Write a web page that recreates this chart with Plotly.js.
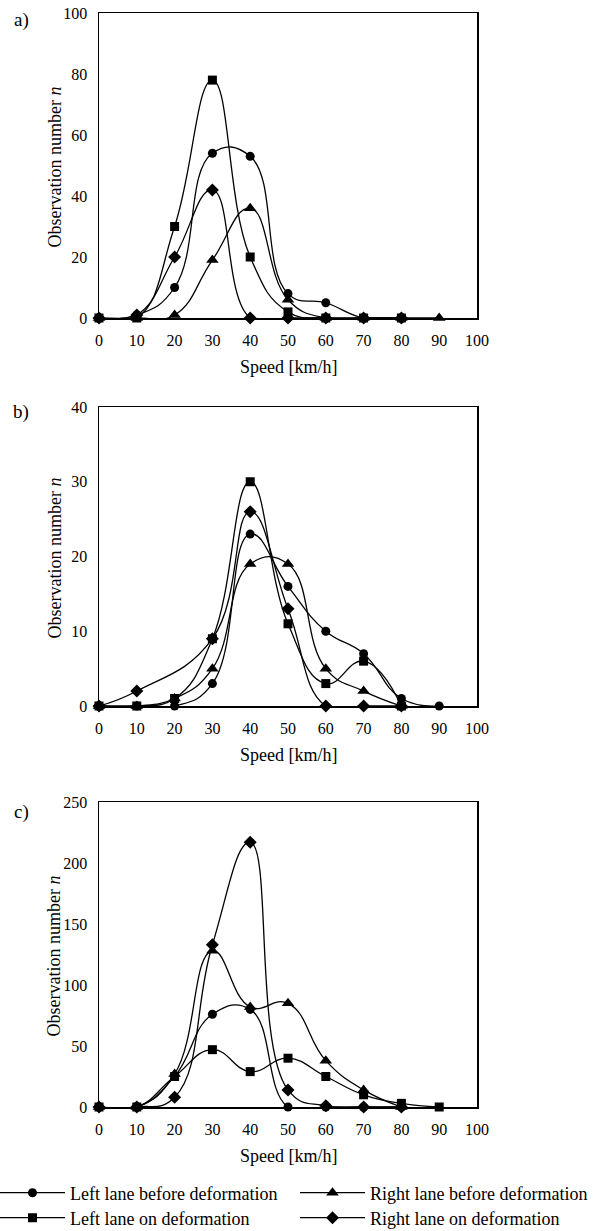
<!DOCTYPE html>
<html>
<head>
<meta charset="utf-8">
<script src="https://cdn.plot.ly/plotly-3.0.1.min.js"></script>
<style>html,body{margin:0;padding:0;background:#fff;}#chart{width:594px;height:1231px;}</style>
</head>
<body>
<div id="chart"></div>
<script>
// Speed categories [km/h]
var speeds = [0, 10, 20, 30, 40, 50, 60, 70, 80, 90];

// Panel a)
var leftBefore_a  = [0, 1, 10, 54, 53, 8, 5, 0, 0, null];
var rightBefore_a = [0, 0, 1, 19, 36, 6, 0, 0, 0, 0];
var leftOn_a      = [0, 0, 30, 78, 20, 2, 0, 0, 0, null];
var rightOn_a     = [0, 1, 20, 42, 0, 0, 0, 0, 0, null];

// Panel b)
var leftBefore_b  = [0, 0, 0, 3, 23, 16, 10, 7, 1, 0];
var rightBefore_b = [0, 0, 1, 5, 19, 19, 5, 2, 0, null];
var leftOn_b      = [0, 0, 1, 9, 30, 11, 3, 6, 0, null];
var rightOn_b     = [0, 2, null, 9, 26, 13, 0, 0, 0, null];

// Panel c)
var leftBefore_c  = [0, 0, 25, 76, 80, 0, 0, 0, 0, null];
var rightBefore_c = [0, 0, 27, 128, 82, 85, 38, 14, 0, null];
var leftOn_c      = [0, 0, 25, 47, 29, 40, 25, 10, 3, 0];
var rightOn_c     = [0, 0, 8, 133, 217, 14, 1, 0, 0, null];

var seriesNames = ["Left lane before deformation", "Right lane before deformation",
                   "Left lane on deformation", "Right lane on deformation"];
var symbols = ["circle", "triangle-up", "square", "diamond"];
var sizes = [9, 11, 9, 10];

var panels = [
  {data: [leftBefore_a, rightBefore_a, leftOn_a, rightOn_a], xa: "x", ya: "y"},
  {data: [leftBefore_b, rightBefore_b, leftOn_b, rightOn_b], xa: "x2", ya: "y2"},
  {data: [leftBefore_c, rightBefore_c, leftOn_c, rightOn_c], xa: "x3", ya: "y3"}
];
var legendIds = ["legend", "legend2", "legend3", "legend4"];

var traces = [];
panels.forEach(function (p, pi) {
  p.data.forEach(function (vals, si) {
    traces.push({
      x: speeds, y: vals, xaxis: p.xa, yaxis: p.ya,
      type: "scatter", mode: "lines+markers",
      name: seriesNames[si],
      connectgaps: true,
      line: {color: "black", width: 1.3, shape: "spline", smoothing: 1.3},
      marker: {symbol: symbols[si], size: sizes[si], color: "black"},
      cliponaxis: false,
      showlegend: pi === 0,
      legend: legendIds[si]
    });
  });
});

var H = 1231, W = 594;
function py(v) { return 1 - v / H; }
function px(v) { return v / W; }

var FAM = "Liberation Serif";
var font = {family: FAM, size: 16, color: "black"};
function xax(anchor) {
  return {domain: [px(99), px(477)], range: [0, 100], dtick: 10, tick0: 0, anchor: anchor,
    showgrid: false, zeroline: false, showline: true, mirror: true, linecolor: "black", linewidth: 1.5,
    ticks: "outside", ticklen: 7, tickcolor: "rgba(0,0,0,0)", tickfont: font, fixedrange: true};
}
function yax(anchor, top, bottom, maxv, dt) {
  return {domain: [py(bottom), py(top)], range: [0, maxv], dtick: dt, anchor: anchor,
    showgrid: false, zeroline: false, showline: true, mirror: true, linecolor: "black", linewidth: 1.5,
    ticks: "outside", ticklen: 7, tickcolor: "rgba(0,0,0,0)", tickfont: font, fixedrange: true};
}

var boxes = [[13, 318], [407, 706], [802, 1107]];
var annotations = [];
var labels = ["a)", "b)", "c)"];
var labelY = [20, 412, 812];
boxes.forEach(function (b, i) {
  annotations.push({text: "Speed [km/h]", xref: "paper", yref: "paper", x: px(288), y: py(b[1] + 49),
    showarrow: false, xanchor: "center", yanchor: "middle", font: {family: FAM, size: 18, color: "black"}});
  annotations.push({text: "Observation number <i>n</i>", xref: "paper", yref: "paper", x: px(54), y: py((b[0] + b[1]) / 2 + 2),
    showarrow: false, textangle: -90, xanchor: "center", yanchor: "middle", font: {family: FAM, size: 18, color: "black"}});
  annotations.push({text: labels[i], xref: "paper", yref: "paper", x: px(21), y: py(labelY[i]),
    showarrow: false, xanchor: "center", yanchor: "middle", font: {family: FAM, size: 19, color: "black"}});
});

function leg(xp, yp) {
  return {x: px(xp), y: py(yp), xanchor: "left", yanchor: "middle", orientation: "v",
    font: {family: FAM, size: 18, color: "black"}, bgcolor: "rgba(0,0,0,0)", itemwidth: 65};
}

var layout = {
  width: W, height: H, margin: {l: 0, r: 0, t: 0, b: 0, autoexpand: false},
  paper_bgcolor: "white", plot_bgcolor: "white",
  font: {family: FAM, color: "black"},
  showlegend: true,
  xaxis: xax("y"), yaxis: yax("x", 13, 318, 100, 20),
  xaxis2: xax("y2"), yaxis2: yax("x2", 407, 706, 40, 10),
  xaxis3: xax("y3"), yaxis3: yax("x3", 802, 1107, 250, 50),
  legend: leg(-5, 1193), legend2: leg(295, 1193), legend3: leg(-5, 1218), legend4: leg(295, 1218),
  annotations: annotations
};

Plotly.newPlot("chart", traces, layout, {staticPlot: true, displayModeBar: false});
</script>
</body>
</html>
